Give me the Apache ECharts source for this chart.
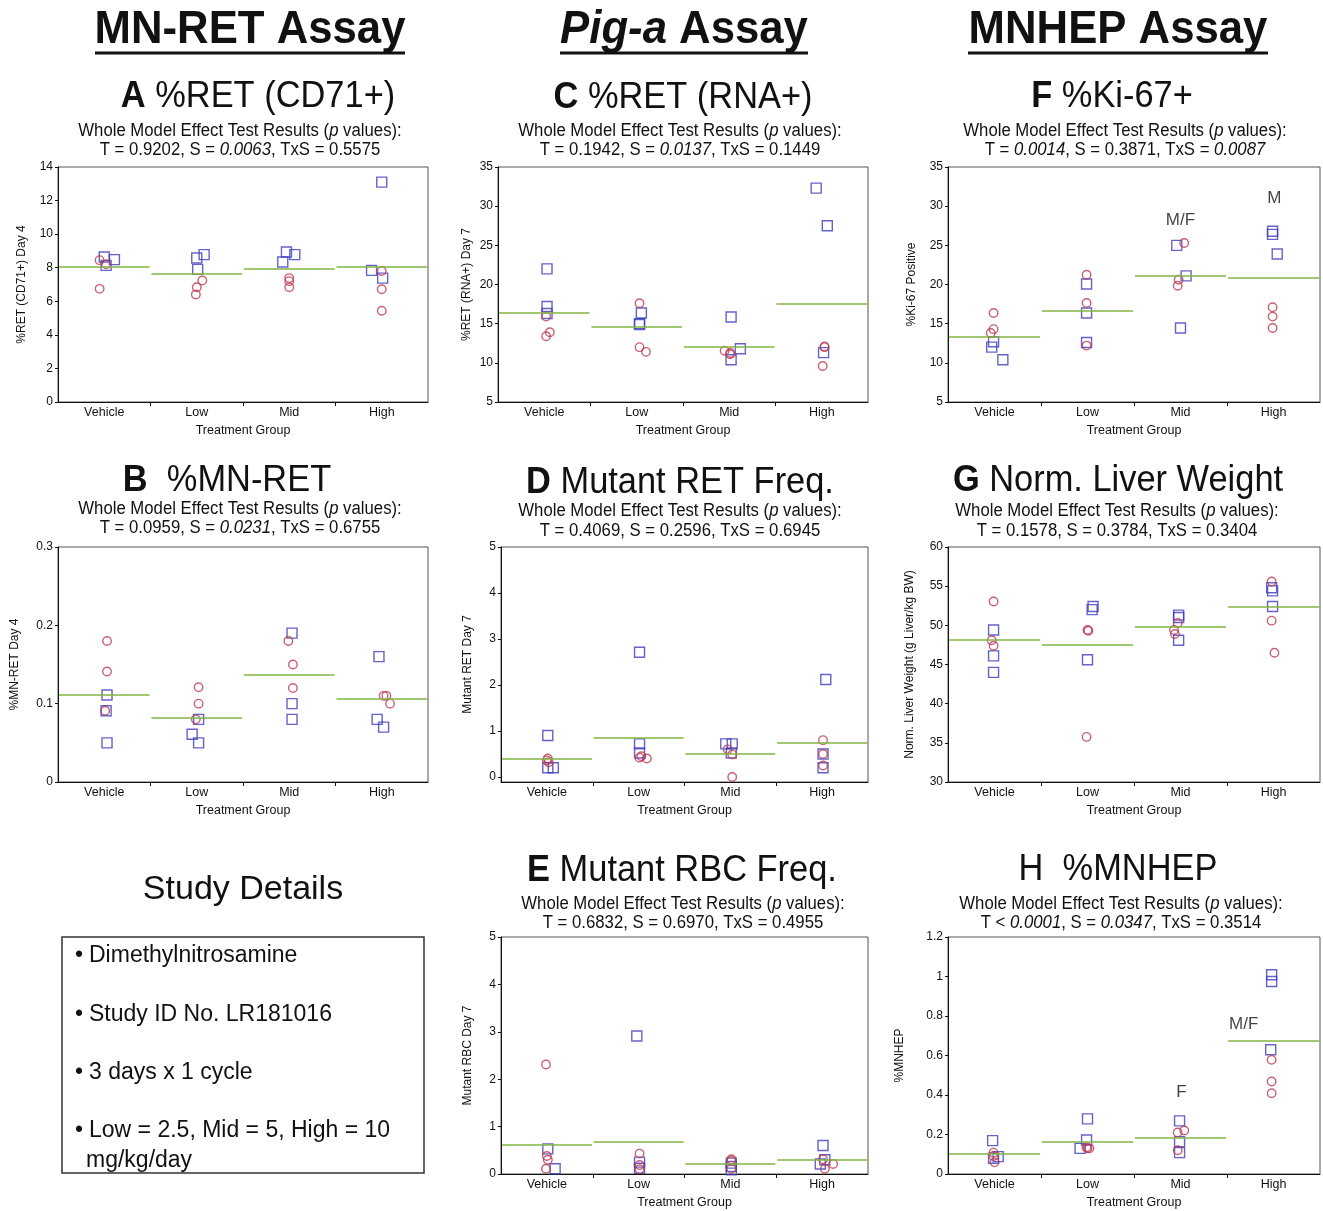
<!DOCTYPE html>
<html><head><meta charset="utf-8">
<script src="https://cdn.jsdelivr.net/npm/echarts@6/dist/echarts.min.js"></script>
<style>html,body{margin:0;padding:0;background:#fff}#c{width:1323px;height:1211px}</style>
</head><body><div id="c"></div>
<script>
// ---------- data ----------
const categories = ['Vehicle', 'Low', 'Mid', 'High'];

// A %RET (CD71+)  [x position within group band, value]
const aMale   = [[0.50,8.64],[0.61,8.48],[0.52,8.14],[1.50,8.58],[1.58,8.78],[1.51,7.90],[2.47,8.94],[2.56,8.78],[2.43,8.34],[3.50,13.1],[3.39,7.84],[3.51,7.38]];
const aFemale = [[0.45,8.45],[0.52,8.20],[0.45,6.74],[1.50,6.84],[1.56,7.24],[1.49,6.40],[2.50,7.38],[2.50,7.20],[2.50,6.84],[3.50,7.80],[3.50,6.72],[3.50,5.44]];
const aMeans  = [8.08, 7.62, 7.94, 8.04];

// C %RET (RNA+)
const cMale   = [[0.53,22.0],[0.53,17.2],[0.53,16.3],[1.55,16.36],[1.53,15.0],[1.53,14.9],[2.52,15.85],[2.52,10.4],[2.62,11.8],[3.44,32.3],[3.56,27.5],[3.52,11.3]];
const cFemale = [[0.52,15.9],[0.56,13.9],[0.52,13.4],[1.53,17.6],[1.53,12.0],[1.60,11.4],[2.45,11.55],[2.51,11.25],[2.51,11.1],[3.53,12.1],[3.53,12.0],[3.51,9.6]];
const cMeans  = [16.36, 14.57, 12.02, 17.5];

// F %Ki-67+
const fMale   = [[0.49,12.7],[0.47,12.0],[0.59,10.4],[1.49,20.06],[1.49,16.36],[1.49,12.6],[2.46,25.0],[2.56,21.1],[2.50,14.45],[3.49,26.8],[3.49,26.4],[3.54,23.9]];
const fFemale = [[0.49,16.36],[0.49,14.3],[0.46,13.8],[1.49,21.25],[1.49,17.64],[1.49,12.2],[2.54,25.3],[2.48,20.6],[2.47,19.85],[3.49,17.1],[3.49,15.9],[3.49,14.45]];
const fMeans  = [13.3, 16.7, 21.13, 20.83];
const fNotes  = [[2.50,28.2,'M/F'],[3.51,31.0,'M']];

// B %MN-RET
const bMale   = [[0.53,0.111],[0.52,0.091],[0.53,0.05],[1.52,0.08],[1.45,0.061],[1.52,0.05],[2.53,0.19],[2.53,0.10],[2.53,0.08],[3.47,0.16],[3.45,0.08],[3.52,0.07]];
const bFemale = [[0.53,0.18],[0.53,0.141],[0.51,0.091],[1.52,0.121],[1.52,0.10],[1.49,0.08],[2.49,0.18],[2.54,0.15],[2.54,0.12],[3.52,0.11],[3.55,0.11],[3.59,0.10]];
const bMeans  = [0.111, 0.082, 0.137, 0.106];

// D Mutant RET Freq.
const dMale   = [[0.51,0.9],[0.51,0.2],[0.57,0.2],[1.51,2.71],[1.51,0.72],[1.51,0.52],[2.45,0.72],[2.52,0.72],[2.51,0.52],[3.54,2.12],[3.51,0.5],[3.51,0.2]];
const dFemale = [[0.51,0.40],[0.52,0.32],[0.50,0.36],[1.51,0.42],[1.59,0.40],[1.53,0.45],[2.47,0.60],[2.52,0.49],[2.52,0.0],[3.51,0.80],[3.51,0.50],[3.51,0.25]];
const dMeans  = [0.40, 0.86, 0.51, 0.74];
const dTicks  = [0, 1, 2, 3, 4, 5];

// G Norm. Liver Weight
const gMale   = [[0.49,49.4],[0.49,46.1],[0.49,44.0],[1.56,52.4],[1.55,52.0],[1.50,45.6],[2.48,51.3],[2.48,51.0],[2.48,48.1],[3.48,54.8],[3.49,54.4],[3.49,52.4]];
const gFemale = [[0.49,53.05],[0.47,48.1],[0.49,47.4],[1.50,49.4],[1.51,49.3],[1.49,35.76],[2.47,50.3],[2.43,49.4],[2.44,48.9],[3.48,55.6],[3.48,50.6],[3.51,46.5]];
const gMeans  = [48.14, 47.46, 49.8, 52.4];

// E Mutant RBC Freq.
const eMale   = [[0.51,0.53],[0.59,0.11],[1.48,2.91],[1.51,0.25],[1.51,0.12],[2.51,0.23],[2.51,0.16],[2.51,0.09],[3.51,0.6],[3.48,0.21],[3.53,0.3]];
const eFemale = [[0.49,2.31],[0.50,0.38],[0.51,0.30],[0.49,0.11],[1.51,0.43],[1.51,0.19],[1.51,0.10],[2.51,0.31],[2.51,0.28],[2.51,0.11],[3.51,0.31],[3.62,0.21],[3.53,0.11]];
const eMeans  = [0.62, 0.69, 0.21, 0.30];

// H %MNHEP
const hMale   = [[0.48,0.169],[0.54,0.088],[0.49,0.08],[1.50,0.279],[1.49,0.172],[1.42,0.13],[2.49,0.269],[2.49,0.164],[2.49,0.108],[3.48,1.009],[3.48,0.975],[3.47,0.629]];
const hFemale = [[0.49,0.108],[0.49,0.091],[0.50,0.059],[1.50,0.13],[1.49,0.135],[1.52,0.13],[2.54,0.22],[2.47,0.21],[2.47,0.12],[3.48,0.578],[3.48,0.468],[3.48,0.409]];
const hMeans  = [0.101, 0.164, 0.186, 0.674];
const hNotes  = [[2.51,0.415,'F'],[3.18,0.76,'M/F']];

const studyLines = ['Dimethylnitrosamine', 'Study ID No. LR181016', '3 days x 1 cycle', 'Low = 2.5, Mid = 5, High = 10', 'mg/kg/day'];

// ---------- styling ----------
const FONT = '"Liberation Sans", Arial, Helvetica, sans-serif';
const BLUE = '#3c3cbc', RED = '#bc3a50', GREEN = '#82b444', INK = '#111';

const panels = [
  {grid:{left:58, top:167, width:370, height:235}, y:{min:0, max:14, interval:2}, name:'%RET (CD71+) Day 4', gap:30, m:aMale, f:aFemale, means:aMeans},
  {grid:{left:498, top:167, width:370, height:235}, y:{min:5, max:35, interval:5}, name:'%RET (RNA+) Day 7', gap:25, m:cMale, f:cFemale, means:cMeans},
  {grid:{left:948, top:167, width:372, height:235}, y:{min:5, max:35, interval:5}, name:'%Ki-67 Positive', gap:30, m:fMale, f:fFemale, means:fMeans, notes:fNotes},
  {grid:{left:58, top:547, width:370, height:235}, y:{min:0, max:0.3, interval:0.1}, name:'%MN-RET Day 4', gap:37, m:bMale, f:bFemale, means:bMeans},
  {grid:{left:501, top:547, width:367, height:235}, y:{min:-0.11, max:5, custom:dTicks}, name:'Mutant RET Day 7', gap:27, m:dMale, f:dFemale, means:dMeans},
  {grid:{left:948, top:547, width:372, height:235}, y:{min:30, max:60, interval:5}, name:'Norm. Liver Weight (g Liver/kg BW)', gap:32, m:gMale, f:gFemale, means:gMeans},
  {grid:{left:501, top:937, width:367, height:237}, y:{min:0, max:5, interval:1}, name:'Mutant RBC Day 7', gap:27, m:eMale, f:eFemale, means:eMeans},
  {grid:{left:948, top:937, width:372, height:237}, y:{min:0, max:1.2, interval:0.2}, name:'%MNHEP', gap:42, m:hMale, f:hFemale, means:hMeans, notes:hNotes}
];

const grid = [], xAxis = [], yAxis = [], series = [];
panels.forEach((p, i) => {
  grid.push(Object.assign({show:true, borderColor:'#555', borderWidth:1, backgroundColor:'#fff'}, p.grid));
  xAxis.push({
    type:'value', gridIndex:i, min:0, max:4,
    name:'Treatment Group', nameLocation:'middle', nameGap:22,
    nameTextStyle:{fontFamily:FONT, fontSize:12.5, color:INK},
    axisLine:{onZero:false, lineStyle:{color:'#111', width:1}},
    axisTick:{show:true, length:4, customValues:[1,2,3], lineStyle:{color:'#111'}},
    axisLabel:{customValues:[0.5,1.5,2.5,3.5], margin:4, fontFamily:FONT, fontSize:12.5, color:INK,
               formatter:v => categories[Math.floor(v)]},
    splitLine:{show:false}
  });
  const ya = {
    type:'value', gridIndex:i, min:p.y.min, max:p.y.max,
    name:p.name, nameLocation:'middle', nameGap:p.gap,
    nameTextStyle:{fontFamily:FONT, fontSize:12, color:INK},
    axisLine:{show:true, onZero:false, lineStyle:{color:'#111', width:1}},
    axisTick:{show:true, length:3, lineStyle:{color:'#111'}},
    axisLabel:{margin:5, fontFamily:FONT, fontSize:12, color:INK},
    splitLine:{show:false}
  };
  if (p.y.custom) { ya.axisTick.customValues = p.y.custom; ya.axisLabel.customValues = p.y.custom; }
  else ya.interval = p.y.interval;
  yAxis.push(ya);

  series.push({
    type:'scatter', xAxisIndex:i, yAxisIndex:i, data:p.m, symbol:'rect', symbolSize:10, silent:true,
    itemStyle:{color:'rgba(0,0,0,0)', borderColor:BLUE, borderWidth:1.4},
    markLine:{
      silent:true, symbol:['none','none'], label:{show:false}, animation:false,
      lineStyle:{color:GREEN, width:1.5, type:'solid'},
      data:p.means.map((m, g) => [{coord:[g + 0.01, m]}, {coord:[g + 0.99, m]}])
    }
  });
  series.push({
    type:'scatter', xAxisIndex:i, yAxisIndex:i, data:p.f, symbol:'circle', symbolSize:8.5, silent:true,
    itemStyle:{color:'rgba(0,0,0,0)', borderColor:RED, borderWidth:1.4}
  });
  if (p.notes) {
    series.push({
      type:'scatter', xAxisIndex:i, yAxisIndex:i, data:p.notes, symbol:'circle', symbolSize:1, silent:true,
      itemStyle:{color:'rgba(0,0,0,0)'},
      label:{show:true, position:'inside', formatter:d => d.data[2], fontFamily:FONT, fontSize:17, color:INK}
    });
  }
});

// ---------- text graphics ----------
const SX = 0.93;
function txt(x, y, text, size, extra) {
  extra = extra || {};
  return {
    type:'text', x:x, y:y, scaleX:extra.scaleX == null ? SX : extra.scaleX, silent:true,
    style:Object.assign({
      text:text, fontFamily:FONT, fontSize:size, fontWeight:extra.weight || 'normal', fill:INK,
      align:extra.align || 'center', verticalAlign:'middle',
      textAlign:extra.align || 'center', textVerticalAlign:'middle',
      rich:{
        b:{fontFamily:FONT, fontSize:size, fontWeight:'bold', fill:INK},
        n:{fontFamily:FONT, fontSize:size, fontWeight:'normal', fill:INK},
        i:{fontFamily:FONT, fontSize:size, fontStyle:'italic', fontWeight:extra.weight || 'normal', fill:INK},
        bi:{fontFamily:FONT, fontSize:size, fontStyle:'italic', fontWeight:'bold', fill:INK}
      }
    }, extra.style || {})
  };
}
function uline(x1, x2, y) {
  return {type:'line', silent:true, shape:{x1:x1, y1:y, x2:x2, y2:y}, style:{stroke:'#111', lineWidth:3}};
}

const titles = [
  // [cx, cy, title, subCx, sub1Y, sub2Y, pLine]
  [258, 97, '{b|A} %RET (CD71+)', 240, 131, 150, 'T = 0.9202, S = {i|0.0063}, TxS = 0.5575'],
  [683, 98, '{b|C} %RET (RNA+)', 680, 131, 150, 'T = 0.1942, S = {i|0.0137}, TxS = 0.1449'],
  [1112, 97, '{b|F} %Ki-67+', 1125, 131, 150, 'T = {i|0.0014}, S = 0.3871, TxS = {i|0.0087}'],
  [227, 481, '{b|B}  %MN-RET', 240, 509, 528, 'T = 0.0959, S = {i|0.0231}, TxS = 0.6755'],
  [680, 483, '{b|D} Mutant RET Freq.', 680, 511, 531, 'T = 0.4069, S = 0.2596, TxS = 0.6945'],
  [1118, 481, '{b|G} Norm. Liver Weight', 1117, 511, 531, 'T = 0.1578, S = 0.3784, TxS = 0.3404'],
  [682, 871, '{b|E} Mutant RBC Freq.', 683, 904, 923, 'T = 0.6832, S = 0.6970, TxS = 0.4955'],
  [1118, 870, 'H  %MNHEP', 1121, 904, 923, 'T < {i|0.0001}, S = {i|0.0347}, TxS = 0.3514']
];

const graphic = [];
graphic.push(txt(250, 30, 'MN-RET Assay', 47, {weight:'bold'}));
graphic.push(uline(95, 405, 53));
graphic.push(txt(684, 30, '{bi|Pig-a} Assay', 47, {weight:'bold'}));
graphic.push(uline(560, 808, 53));
graphic.push(txt(1118, 30, 'MNHEP Assay', 47, {weight:'bold'}));
graphic.push(uline(968, 1268, 53));

titles.forEach(t => {
  graphic.push(txt(t[0], t[1], t[2], 37));
  graphic.push(txt(t[3], t[4], 'Whole Model Effect Test Results ({i|p} values):', 18));
  graphic.push(txt(t[3], t[5], t[6], 18));
});

// study details
graphic.push(txt(243, 890, 'Study Details', 34, {scaleX:1}));
graphic.push({type:'rect', silent:true, shape:{x:62, y:937, width:362, height:236},
  style:{fill:'none', stroke:'#333', lineWidth:1.5}});
const lineY = [956, 1015, 1073, 1131];
studyLines.forEach((s, k) => {
  if (k < 4) {
    graphic.push(txt(75, lineY[k], '•', 23, {scaleX:1, align:'left'}));
    graphic.push(txt(89, lineY[k], s, 23, {scaleX:1, align:'left'}));
  } else {
    graphic.push(txt(86, 1161, s, 23, {scaleX:1, align:'left'}));
  }
});

const chart = echarts.init(document.getElementById('c'), null, {renderer:'canvas'});
chart.setOption({
  animation:false,
  backgroundColor:'#fff',
  grid:grid, xAxis:xAxis, yAxis:yAxis, series:series, graphic:graphic
});
</script>
</body></html>
